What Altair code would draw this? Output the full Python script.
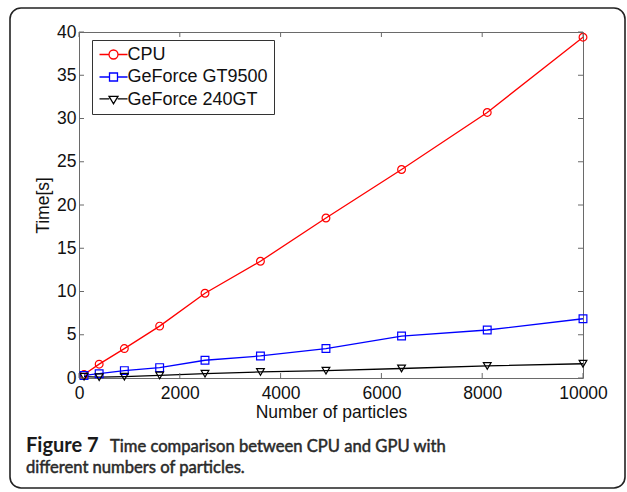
import altair as alt
import pandas as pd

# ---- data ----
particles = [100, 400, 900, 1600, 2500, 3600, 4900, 6400, 8100, 10000]
cpu = [0.4, 1.6, 3.4, 6.0, 9.8, 13.5, 18.5, 24.1, 30.7, 39.4]
gt9500 = [0.3, 0.5, 0.85, 1.2, 2.05, 2.55, 3.4, 4.85, 5.55, 6.85]
gt240 = [0.15, 0.1, 0.15, 0.3, 0.5, 0.7, 0.85, 1.1, 1.4, 1.65]

series_names = ["CPU", "GeForce GT9500", "GeForce 240GT"]
series_colors = ["#ff0000", "#0000ff", "#000000"]
marker_shapes = ["circle", "square", "triangle-down"]

x_ticks = [0, 2000, 4000, 6000, 8000, 10000]
y_ticks = [0, 5, 10, 15, 20, 25, 30, 35, 40]

x_title = "Number of particles"
y_title = "Time[s]"
caption_bold = "Figure 7"
caption_line1 = "Time comparison between CPU and GPU with"
caption_line2 = "different numbers of particles."

# ---- build table ----
rows = []
for name, vals in zip(series_names, [cpu, gt9500, gt240]):
    for p, v in zip(particles, vals):
        rows.append({"series": name, "particles": p, "time": v})
df = pd.DataFrame(rows)

W, H = 504, 346
AXIS_COL = "#6a6a6a"
FONT = "Liberation Sans"

xscale = alt.Scale(domain=[0, 10000], nice=False, zero=False)
yscale = alt.Scale(domain=[0, 40], nice=False)

x_axis = alt.Axis(values=x_ticks, format="d", ticks=False, tickSize=0, domain=False, grid=False,
                  labelFont=FONT, labelFontSize=17.5, labelColor="#111", labelPadding=6,
                  labelFlush=False, title=x_title, titleFont=FONT, titleFontSize=17.5,
                  titleFontWeight="normal", titleColor="#111", titlePadding=2)
y_axis = alt.Axis(values=y_ticks, format="d", ticks=False, tickSize=0, domain=False, grid=False,
                  labelFont=FONT, labelFontSize=17.5, labelColor="#111", labelPadding=3,
                  labelFlush=False, title=y_title, titleFont=FONT, titleFontSize=17.5,
                  titleFontWeight="normal", titleColor="#111", titlePadding=4)

# legend symbols: line through marker (custom paths; symbolSize 196 -> 7px per unit)
legend_paths = [
    "M-1,0H0.36M1.64,0H3M1.64,0A0.64,0.64 0 1,1 0.36,0A0.64,0.64 0 1,1 1.64,0Z",
    "M-1,0H0.43M1.57,0H3M0.43,-0.57H1.57V0.57H0.43Z",
    "M-1,-0.1H0.4M1.6,-0.1H3M0.36,-0.45H1.64L1,0.62Z",
]

layers = []

one = pd.DataFrame({"a": [0]})

# rounded frame around the figure
frame = alt.Chart(one).mark_rect(cornerRadius=11, fillOpacity=0, stroke="#222",
                                 strokeWidth=1.6, clip=False).encode(
    x=alt.value(-69), x2=alt.value(546), y=alt.value(-24), y2=alt.value(456))
layers.append(frame)

# lines
for name, col in zip(series_names, series_colors):
    ln = alt.Chart(df).transform_filter(alt.datum.series == name).mark_line(
        color=col, strokeWidth=1.3).encode(
        x=alt.X("particles:Q", scale=xscale, axis=x_axis),
        y=alt.Y("time:Q", scale=yscale, axis=y_axis))
    layers.append(ln)

# markers
for name, col, shp in zip(series_names, series_colors, marker_shapes):
    pt = alt.Chart(df).transform_filter(alt.datum.series == name).mark_point(
        color=col, shape=shp, filled=False, size=60, strokeWidth=1.2, opacity=1).encode(
        x=alt.X("particles:Q", scale=xscale, axis=x_axis),
        y=alt.Y("time:Q", scale=yscale, axis=y_axis))
    layers.append(pt)

# legend-only layer (invisible marks)
leg = alt.Legend(title=None, orient="none", legendX=13, legendY=8, padding=5.5,
                 strokeColor="#333", fillColor="white", labelFont=FONT,
                 labelFontSize=18, labelColor="#111", symbolSize=196,
                 symbolStrokeWidth=1.3, symbolOpacity=1, rowPadding=4.5,
                 labelOffset=12, cornerRadius=0)
legend_layer = alt.Chart(df).mark_point(opacity=0, filled=False).encode(
    x=alt.X("particles:Q", scale=xscale, axis=x_axis),
    y=alt.Y("time:Q", scale=yscale, axis=y_axis),
    color=alt.Color("series:N", scale=alt.Scale(domain=series_names, range=series_colors),
                    legend=leg),
    shape=alt.Shape("series:N", scale=alt.Scale(domain=series_names, range=legend_paths),
                    legend=leg))
layers.append(legend_layer)

# inward ticks (MATLAB style) on all four sides
xt = pd.DataFrame({"v": x_ticks})
yt = pd.DataFrame({"v": y_ticks})
tick_bottom = alt.Chart(xt).mark_rule(color=AXIS_COL, strokeWidth=1).encode(
    x=alt.X("v:Q", scale=xscale, axis=x_axis), y=alt.value(H), y2=alt.value(H - 5))
tick_top = alt.Chart(xt).mark_rule(color=AXIS_COL, strokeWidth=1).encode(
    x=alt.X("v:Q", scale=xscale, axis=x_axis), y=alt.value(0), y2=alt.value(5))
tick_left = alt.Chart(yt).mark_rule(color=AXIS_COL, strokeWidth=1).encode(
    y=alt.Y("v:Q", scale=yscale, axis=y_axis), x=alt.value(0), x2=alt.value(5))
tick_right = alt.Chart(yt).mark_rule(color=AXIS_COL, strokeWidth=1).encode(
    y=alt.Y("v:Q", scale=yscale, axis=y_axis), x=alt.value(W - 5), x2=alt.value(W))
layers += [tick_bottom, tick_top, tick_left, tick_right]

# caption
cap_font = "Lato"
cap1 = alt.Chart(one).mark_text(align="left", baseline="alphabetic", font=cap_font,
                                fontSize=20, fontWeight="bold", color="#1a1a1a").encode(
    x=alt.value(-53), y=alt.value(420), text=alt.value(caption_bold))
cap2 = alt.Chart(one).mark_text(align="left", baseline="alphabetic", font=cap_font,
                                fontSize=16.6, fontWeight="normal", color="#2a2a2a",
                                stroke="#2a2a2a", strokeWidth=0.5).encode(
    x=alt.value(31), y=alt.value(420), text=alt.value(caption_line1))
cap3 = alt.Chart(one).mark_text(align="left", baseline="alphabetic", font=cap_font,
                                fontSize=16.6, fontWeight="normal", color="#2a2a2a",
                                stroke="#2a2a2a", strokeWidth=0.5).encode(
    x=alt.value(-53), y=alt.value(441), text=alt.value(caption_line2))
layers += [cap1, cap2, cap3]

chart = alt.layer(*layers).properties(
    width=W, height=H,
    padding={"left": 79, "top": 32, "right": 44, "bottom": 114},
    autosize=alt.AutoSizeParams(type="none"),
    background="white",
).configure_view(stroke=AXIS_COL, strokeWidth=1)

chart.save("out.html", embed_options={"renderer": "svg", "actions": False})
